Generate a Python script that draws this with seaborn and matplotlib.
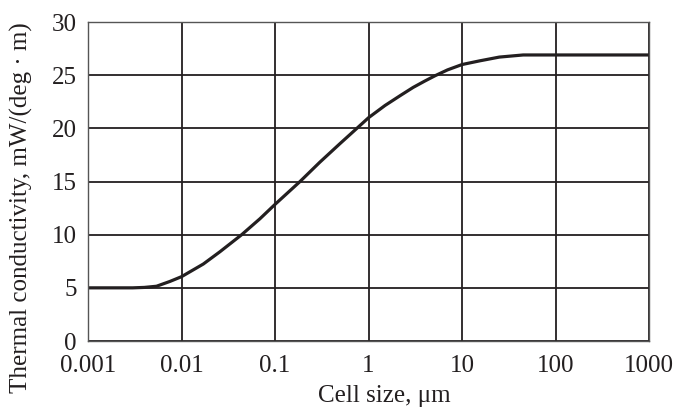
import matplotlib
matplotlib.use("Agg")
import matplotlib.pyplot as plt
import pandas as pd
import seaborn as sns

# values
cell_size_um = [0.001, 0.002, 0.003, 0.004, 0.0054, 0.0075, 0.01, 0.0171, 0.0258, 0.044,
                0.069, 0.1, 0.185, 0.3, 0.5, 0.75, 1, 1.5, 2.2, 3,
                4, 5.15, 7, 10, 15.5, 25, 45, 100, 1000]
conductivity = [5.0, 5.0, 5.0, 5.04, 5.15, 5.6, 6.05, 7.24, 8.4, 10.0,
                 11.5, 12.85, 15.0, 16.8, 18.6, 20.0, 21.0, 22.15, 23.1, 23.85,
                 24.45, 24.95, 25.5, 26.0, 26.35, 26.7, 26.9, 26.9, 26.9]
x_ticks = [0.001, 0.01, 0.1, 1, 10, 100, 1000]
x_tick_labels = ["0.001", "0.01", "0.1", "1", "10", "100", "1000"]
y_ticks = [0, 5, 10, 15, 20, 25, 30]

df = pd.DataFrame({"size": cell_size_um, "k": conductivity})

sns.set_style("white")
plt.rcParams["font.family"] = ["Liberation Serif", "DejaVu Serif"]

ink = "#231f20"
fig = plt.figure(figsize=(6.79, 4.12), dpi=100)
ax = fig.add_axes([0.1296, 0.1723, 0.8264, 0.7743])

sns.lineplot(data=df, x="size", y="k", ax=ax, color=ink, linewidth=2.3)

ax.set_xscale("log")
ax.set_xlim(0.001, 1000)
ax.set_ylim(0, 30)
ax.set_xticks(x_ticks)
ax.set_xticklabels(x_tick_labels)
ax.set_yticks(y_ticks)
ax.minorticks_off()
ax.tick_params(length=0, labelsize=18, colors=ink)
ax.tick_params(axis="y", pad=8)
ax.tick_params(axis="x", pad=10)
ax.grid(True, color=ink, linewidth=1.3)
ax.set_axisbelow(True)
for s in ax.spines.values():
    s.set_color("#555555")
    s.set_linewidth(1.0)

ax.set_xlabel("Cell size, μm", fontsize=18, color=ink, va="center")
ax.set_ylabel("Thermal conductivity, mW/(deg · m)", fontsize=18, color=ink, va="center")
ax.xaxis.set_label_coords(0.528, -0.172)
ax.yaxis.set_label_coords(-0.119, 0.417)

fig.savefig("out.png", dpi=100)
